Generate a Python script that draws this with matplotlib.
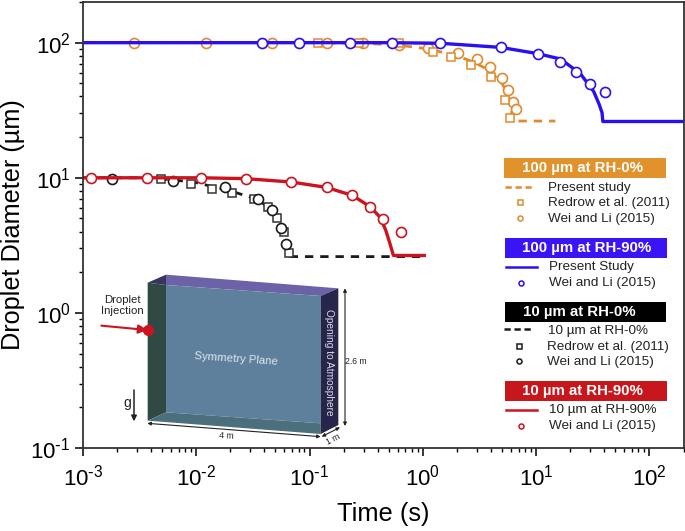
import numpy as np
from matplotlib import pyplot as plt
from matplotlib.patches import Polygon, Rectangle

plt.rcParams['font.family'] = ['Liberation Sans', 'DejaVu Sans']
plt.rcParams['mathtext.default'] = 'regular'

ORANGE = '#e08a2c'
BLUE = '#2a10f0'
RED = '#cc1420'
BLACK = '#1a1a1a'

# 100 um, RH-0%
t_100_dry = [1e-3, 0.1, 0.3, 0.6, 1.1, 1.9, 2.8, 3.9, 5.0, 5.6, 6.1, 6.3, 14.8]
d_100_dry = [100, 100, 99, 96, 90, 81, 72, 62, 50, 42, 30, 26.3, 26.3]
t_100_dry_redrow = [0.119, 0.274, 0.61, 1.24, 1.79, 2.68, 3.96, 5.31, 5.92]
d_100_dry_redrow = [100, 100, 99, 85.7, 77.8, 67.9, 55.7, 37.6, 27.8]
t_100_dry_wei = [0.00284, 0.01214, 0.0468, 0.144, 0.299, 0.622, 1.10, 2.03, 3.0, 3.88, 4.96, 5.65, 6.29, 6.64]
d_100_dry_wei = [100, 100, 100, 99.5, 99, 95.5, 90.8, 83.9, 75.7, 66.4, 55, 44.3, 36.4, 32.4]

# 100 um, RH-90%
t_100_wet = [1e-3, 0.1, 0.5, 1.43, 4.85, 10.3, 16.4, 24.6, 32.2, 36, 38.2, 38.8, 200]
d_100_wet = [100, 100, 100, 99, 92.3, 83, 75.7, 58.9, 43.6, 35, 30.3, 26.1, 26.1]
t_100_wet_wei = [0.0384, 0.0809, 0.229, 0.537, 1.43, 4.85, 10.3, 16.1, 22.3, 29.7, 40.3]
d_100_wet_wei = [100, 100, 100, 100, 99, 92.3, 83, 72.3, 60.3, 49.7, 42.8]

# 10 um, RH-0%
t_10_dry = [1e-3, 0.003, 0.006, 0.01, 0.02, 0.035, 0.047, 0.056, 0.062, 0.066, 0.068, 1.0]
d_10_dry = [10, 10, 9.7, 9.2, 8.0, 6.9, 5.7, 4.4, 3.4, 2.8, 2.61, 2.61]
t_10_dry_redrow = [0.00492, 0.00906, 0.0137, 0.0206, 0.0324, 0.0434, 0.052, 0.0597, 0.0661]
d_10_dry_redrow = [9.8, 9.03, 8.3, 7.78, 7.0, 6.03, 5.03, 4.0, 2.77]
t_10_dry_wei = [0.00182, 0.00628, 0.0179, 0.0349, 0.0468, 0.0565, 0.0621]
d_10_dry_wei = [9.85, 9.5, 8.53, 6.95, 5.73, 4.28, 3.24]

# 10 um, RH-90%
t_10_wet = [1e-3, 0.011, 0.0275, 0.0692, 0.142, 0.239, 0.343, 0.42, 0.47, 0.51, 0.54, 0.55, 1.03]
d_10_wet = [10, 10, 9.85, 9.3, 8.48, 7.4, 6.1, 5.1, 4.1, 3.3, 2.8, 2.66, 2.66]
t_10_wet_wei = [0.00117, 0.0037, 0.011, 0.0275, 0.0692, 0.142, 0.239, 0.343, 0.444, 0.64]
d_10_wet_wei = [10, 10, 10, 9.85, 9.3, 8.48, 7.4, 6.1, 4.94, 4.0]


def pow_label(v, pos):
    e = int(round(np.log10(v)))
    if e < 0:
        return r'$\mathregular{10^{\text{-}%d}}$' % (-e)
    return r'$\mathregular{10^{%d}}$' % e


fig = plt.figure(figsize=(6.85, 5.31), dpi=100)
ax = fig.add_axes([83/685, 1-448/531, (683.5-83)/685, (448-2)/531])
ax.set_xscale('log')
ax.set_yscale('log')
ax.set_xlim(1e-3, 200)
ax.set_ylim(0.1, 200)

circ = dict(marker='o', ms=7.2, mfc='white', mew=1.2, ls='none')
squa = dict(marker='s', ms=6.2, mfc='white', mew=1.1, ls='none')

ax.plot(t_100_dry, d_100_dry, color=ORANGE, lw=2, ls=(0, (3, 2.5)))
ax.plot(t_100_dry_wei, d_100_dry_wei, color=ORANGE, **circ)
ax.plot(t_100_dry_redrow, d_100_dry_redrow, color=ORANGE, **squa)
ax.plot(t_100_wet, d_100_wet, color=BLUE, lw=2.4)
ax.plot(t_100_wet_wei, d_100_wet_wei, color=BLUE, **circ)

ax.plot(t_10_dry, d_10_dry, color=BLACK, lw=2, ls=(0, (3, 2.5)))
ax.plot(t_10_dry_redrow, d_10_dry_redrow, color='#333333', **squa)
ax.plot(t_10_dry_wei, d_10_dry_wei, color=BLACK, **circ)
ax.plot(t_10_wet, d_10_wet, color=RED, lw=2.4)
ax.plot(t_10_wet_wei, d_10_wet_wei, color=RED, **circ)

ax.set_xlabel('Time (s)', fontsize=18.4)
ax.set_ylabel('Droplet Diameter (µm)', fontsize=18.2)
ax.xaxis.set_label_coords(0.5, -54/446)
ax.yaxis.set_label_coords(-58/600, 0.5)
ax.tick_params(which='major', length=5.8, width=1.1, labelsize=16)
ax.tick_params(which='minor', length=3.2, width=1.0)
ax.tick_params(axis='x', which='major', pad=6)
ax.tick_params(axis='y', which='major', pad=3)
ax.xaxis.set_major_locator(plt.LogLocator(base=10, numticks=12))
ax.xaxis.set_minor_locator(plt.LogLocator(base=10, subs=np.arange(2, 10), numticks=12))
ax.xaxis.set_major_formatter(plt.FuncFormatter(pow_label))
ax.yaxis.set_major_formatter(plt.FuncFormatter(pow_label))
ax.xaxis.set_minor_formatter(plt.NullFormatter())
ax.yaxis.set_minor_formatter(plt.NullFormatter())
for s in ax.spines.values():
    s.set_linewidth(1.3)
    s.set_color('#333333')

# overlay in image pixels for the box sketch and the legend
ov = fig.add_axes([0, 0, 1, 1])
ov.set_xlim(0, 685)
ov.set_ylim(531, 0)
ov.axis('off')
ov.patch.set_alpha(0)


def zi(x, y):
    return 90 + x/3, 260 + y/3


def zl(x, y):
    return 490 + x/3, 150 + y/3


faces = [
    ([(173, 68), (228, 44), (228, 75)], '#3a3560'),
    ([(228, 44), (745, 85), (692, 108), (228, 75)], '#6b62a8'),
    ([(173, 68), (228, 75), (228, 457), (173, 482)], '#2f4a45'),
    ([(228, 75), (692, 108), (692, 490), (228, 457)], '#5f809c'),
    ([(173, 482), (228, 457), (692, 490), (692, 522)], '#4b6f7c'),
    ([(692, 108), (745, 85), (745, 495), (692, 522)], '#27264a'),
]
for pts, c in faces:
    ov.add_patch(Polygon([zi(*p) for p in pts], closed=True, fc=c, ec='none'))


def arrow(p0, p1, color='#222222', lw=0.8, style='<|-|>', size=5):
    ov.annotate('', xy=zi(*p1), xytext=zi(*p0),
                arrowprops=dict(arrowstyle=style, color=color, lw=lw, shrinkA=0, shrinkB=0,
                                mutation_scale=size))


arrow((34, 197), (172, 210), color=RED, lw=1.5, style='-|>', size=13)
ov.plot(*zi(175, 209), 'o', color=RED, ms=7)
arrow((132, 390), (132, 484), color='#222222', lw=1.1, style='-|>', size=8)
arrow((765, 85), (765, 498))
arrow((172, 490), (692, 530))
arrow((695, 530), (750, 502))

ov.text(*zi(97, 137), 'Droplet\nInjection', fontsize=8.2, color='#222222', ha='center', va='center',
        linespacing=1.2)
ov.text(*zi(438, 297), 'Symmetry Plane', fontsize=8.2, color='#dde6ee', ha='center', va='center', rotation=-4)
ov.text(*zi(716, 308), 'Opening to Atmosphere', fontsize=7.3, color='#d8d8e8', ha='center', va='center',
        rotation=-90)
ov.text(*zi(112, 430), 'g', fontsize=10, color='#222222', ha='center', va='center')
ov.text(*zi(798, 305), '2.6 m', fontsize=6.2, color='#222222', ha='center', va='center')
ov.text(*zi(410, 527), '4 m', fontsize=6.2, color='#222222', ha='center', va='center', rotation=-3)
ov.text(*zi(730, 538), '1 m', fontsize=6.2, color='#222222', ha='center', va='center', rotation=28)

# legend blocks
headers = [
    ((43, 23, 528, 83), '#e0922b', '100 µm at RH-0%', (277, 53)),
    ((45, 264, 530, 323), '#3a14f5', '100 µm at RH-90%', (290, 293)),
    ((46, 455, 528, 515), '#000000', '10 µm at RH-0%', (267, 485)),
    ((45, 694, 530, 753), '#c8161d', '10 µm at RH-90%', (278, 723)),
]
for (x0, y0, x1, y1), c, label, mid in headers:
    px0, py0 = zl(x0, y0)
    px1, py1 = zl(x1, y1)
    ov.add_patch(Rectangle((px0, py0), px1-px0, py1-py0, fc=c, ec='none'))
    ov.text(*zl(*mid), label, color='white', fontsize=10.8, fontweight='bold', ha='center', va='center')

rows = [
    ('Present study', (174, 113), ORANGE, '--', (45, 135, 110)),
    ('Redrow et al. (2011)', (174, 160), ORANGE, 's', (90, 157)),
    ('Wei and Li (2015)', (174, 207), ORANGE, 'o', (90, 205)),
    ('Present Study', (178, 351), BLUE, '-', (48, 140, 350)),
    ('Wei and Li (2015)', (178, 399), BLUE, 'o', (93, 398)),
    ('10 µm at RH-0%', (174, 542), BLACK, '--', (43, 133, 538)),
    ('Redrow et al. (2011)', (172, 590), BLACK, 's', (88, 587)),
    ('Wei and Li (2015)', (172, 636), BLACK, 'o', (88, 633)),
    ('10 µm at RH-90%', (178, 781), RED, '-', (48, 140, 780)),
    ('Wei and Li (2015)', (178, 828), RED, 'o', (93, 827)),
]
for label, pos, c, kind, key in rows:
    ov.text(*zl(*pos), label, fontsize=9.7, color='#222222', ha='left', va='center')
    if kind in ('-', '--'):
        x0, y0 = zl(key[0], key[2])
        x1, y1 = zl(key[1], key[2])
        ov.plot([x0, x1], [y0, y1], color=c, lw=1.8, ls='-' if kind == '-' else (0, (2.5, 1.5)))
    else:
        x0, y0 = zl(*key)
        ov.plot(x0, y0, marker=kind, ms=3.6, mfc='white', mec=c, mew=1.1, ls='none')

fig.savefig('out.png', dpi=100)
